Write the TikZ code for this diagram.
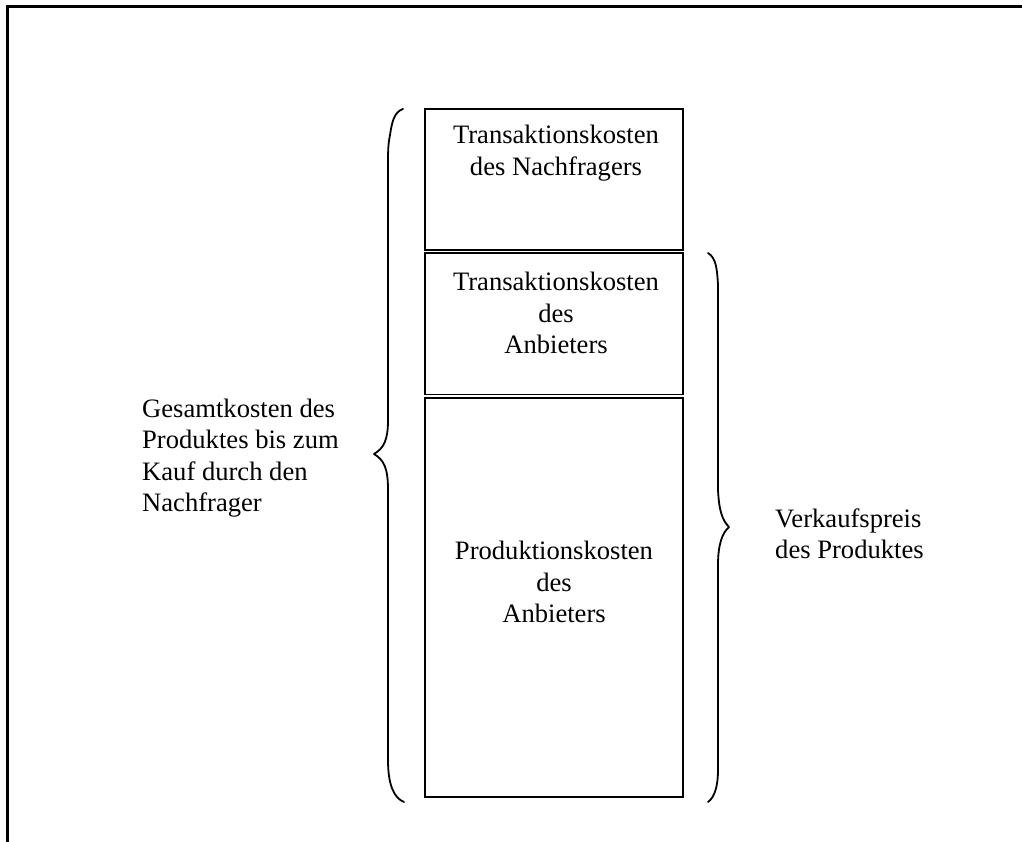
\documentclass[tikz,border=0pt]{standalone}
\usepackage{fontspec}
\setmainfont{Liberation Serif}
\begin{document}
\begin{tikzpicture}[x=1pt,y=-1pt,
  box/.style={draw,line width=1.6pt,inner sep=0pt,outer sep=0pt,minimum width=258pt},
  txt/.style={inner sep=0pt,font=\fontsize{26.6}{31.5}\selectfont},
  brace/.style={draw,line width=1.8pt,line cap=round,line join=round},
  frame/.style={draw,line width=2.8pt}]
\useasboundingbox (0,0) rectangle (1022,842);
% frame
\coordinate (fl) at (7.5,842);
\coordinate (fc) at (7.5,6.2);
\coordinate (fr) at (1022,6.2);
\draw[frame] (fl) -- (fc) -- (fr);
% boxes
\node[box,minimum height=141pt] (b1) at (554,179.5) {};
\node[box,minimum height=141.5pt] (b2) at (554,323.75) {};
\node[box,minimum height=399pt] (b3) at (554,597.5) {};
% box texts
\node[txt,align=center] (t1) at (556,153) {Transaktionskosten\\des Nachfragers};
\node[txt,align=center] (t2) at (556,313) {Transaktionskosten\\des\\Anbieters};
\node[txt,align=center] (t3) at (554,582) {Produktionskosten\\des\\Anbieters};
% side texts
\node[txt,align=left,anchor=west] (tl) at (142,458) {Gesamtkosten des\\Produktes bis zum\\Kauf durch den\\Nachfrager};
\node[txt,align=left,anchor=west] (tr) at (775,534) {Verkaufspreis\\des Produktes};
% left brace
\coordinate (lb1) at (403,109);
\coordinate (lb2) at (374,454);
\coordinate (lb3) at (404,802);
\draw[brace] (lb1) .. controls (394,112) and (392,122) .. (390,135)
  .. controls (388,145) and (388,150) .. (388,170) -- (388,420)
  .. controls (388,440) and (384,448) .. (lb2)
  .. controls (384,460) and (388,468) .. (388,490) -- (388,760)
  .. controls (388,785) and (394,798) .. (lb3);
% right brace
\coordinate (rb1) at (708,253);
\coordinate (rb2) at (729,527);
\coordinate (rb3) at (708,802);
\draw[brace] (rb1) .. controls (716,258) and (717,268) .. (718,285) -- (718,490)
  .. controls (719,510) and (722,520) .. (rb2)
  .. controls (722,533) and (718,545) .. (718,565) -- (718,770)
  .. controls (718,785) and (715,797) .. (rb3);
\end{tikzpicture}
\end{document}
